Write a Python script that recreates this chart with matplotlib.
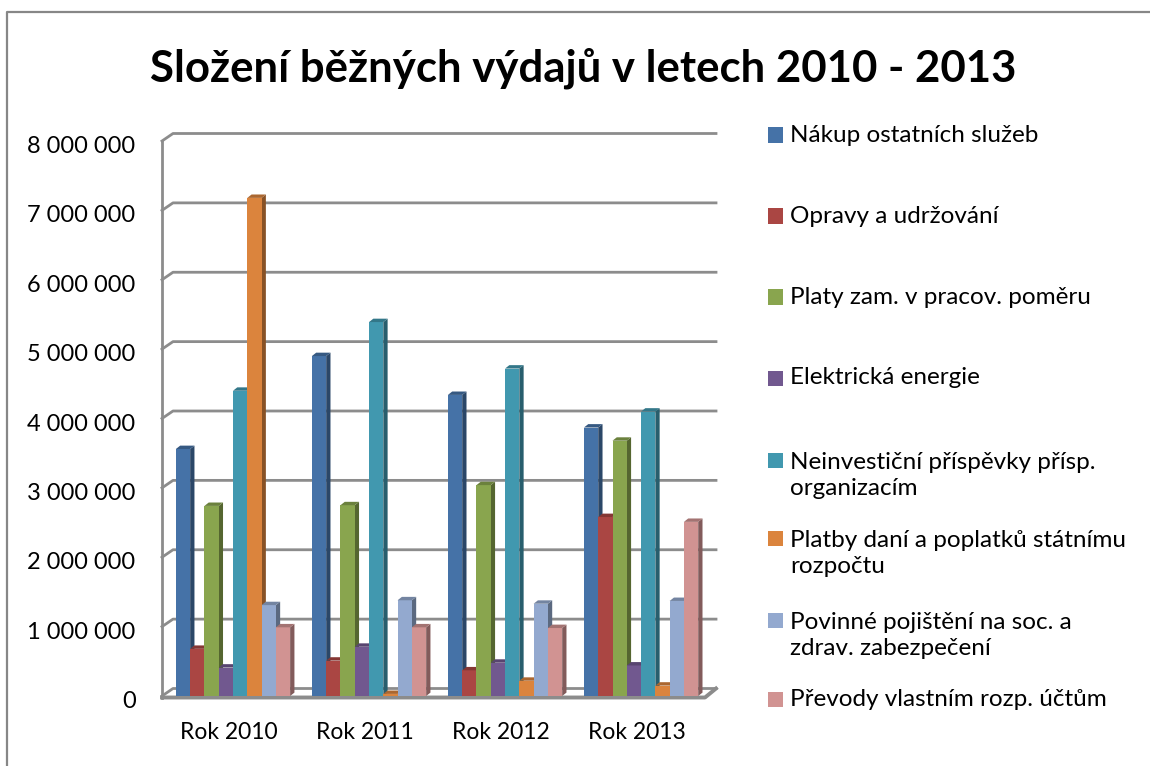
import matplotlib
matplotlib.use("Agg")
import matplotlib.pyplot as plt
from matplotlib.patches import Polygon, Rectangle
from matplotlib.lines import Line2D
import matplotlib.colors as mcolors
import matplotlib.transforms as mtransforms
import numpy as np

plt.rcParams['font.family'] = ['Lato', 'DejaVu Sans']

# ---------------- data ----------------
categories = ["Rok 2010", "Rok 2011", "Rok 2012", "Rok 2013"]
series_names = [
    "Nákup ostatních služeb",
    "Opravy a udržování",
    "Platy zam. v pracov. poměru",
    "Elektrická energie",
    "Neinvestiční příspěvky přísp.\norganizacím",
    "Platby daní a poplatků státnímu\nrozpočtu",
    "Povinné pojištění na soc. a\nzdrav. zabezpečení",
    "Převody vlastním rozp. účtům",
]
nakup_sluzeb = [3560000, 4900000, 4340000, 3870000]
opravy = [680000, 510000, 370000, 2580000]
platy = [2740000, 2750000, 3040000, 3680000]
elektricka_energie = [410000, 710000, 480000, 440000]
neinvesticni_prispevky = [4400000, 5390000, 4720000, 4100000]
platby_dani = [7180000, 30000, 220000, 150000]
povinne_pojisteni = [1310000, 1380000, 1330000, 1370000]
prevody = [990000, 990000, 980000, 2510000]
y_ticks = [0, 1000000, 2000000, 3000000, 4000000, 5000000, 6000000, 7000000, 8000000]
y_tick_labels = ["0", "1 000 000", "2 000 000", "3 000 000", "4 000 000",
                 "5 000 000", "6 000 000", "7 000 000", "8 000 000"]
title = "Složení běžných výdajů v letech 2010 - 2013"

series_values = [nakup_sluzeb, opravy, platy, elektricka_energie,
                 neinvesticni_prispevky, platby_dani, povinne_pojisteni, prevody]
colors = ["#4572A7", "#AA4643", "#89A54E", "#71588F",
          "#4198AF", "#DB843D", "#93A9CF", "#D19392"]

# ---------------- figure ----------------
W, H = 1150, 766
fig = plt.figure(figsize=(W / 100, H / 100), dpi=100)
fig.patch.set_facecolor("white")

ax_left, ax_right, ax_top, ax_bottom = 162, 705, 141, 696
ax = fig.add_axes([ax_left / W, 1 - ax_bottom / H,
                   (ax_right - ax_left) / W, (ax_bottom - ax_top) / H])
ax.set_facecolor("none")

xlim = (-0.522, 3.47)
ylim = (0, 8000000)
ax.set_xlim(*xlim)
ax.set_ylim(*ylim)
for s in ax.spines.values():
    s.set_visible(False)

# depth offsets (in data units)
px_x = (xlim[1] - xlim[0]) / (ax_right - ax_left)
px_y = (ylim[1] - ylim[0]) / (ax_bottom - ax_top)
wall_dx, wall_dy = 11 * px_x, 7.5 * px_y
bar_dx, bar_dy = 4.3 * px_x, 3.4 * px_y

grid_col = "#8C8C8C"
grid_lw = 2.0
# gridlines on back wall with diagonal on left wall
for t in y_ticks:
    ax.add_line(Line2D([xlim[0], xlim[0] + wall_dx, xlim[1] + wall_dx],
                       [t, t + wall_dy, t + wall_dy],
                       color=grid_col, lw=grid_lw, clip_on=False, zorder=1))
# left wall front edge
ax.add_line(Line2D([xlim[0], xlim[0]], [ylim[0] - 1.5 * px_y, ylim[1]],
                   color=grid_col, lw=grid_lw, clip_on=False, zorder=1))
# floor front edge
ax.add_line(Line2D([xlim[0], xlim[1], xlim[1] + wall_dx],
                   [-1.5 * px_y, -1.5 * px_y, wall_dy],
                   color=grid_col, lw=grid_lw + 0.8, clip_on=False, zorder=1))


def shade(c, f):
    r, g, b = mcolors.to_rgb(c)
    return (r * f, g * f, b * f)


n = len(series_values)
bw = 0.105
x = np.arange(len(categories))
for i, (vals, col) in enumerate(zip(series_values, colors)):
    xs = x + (i - (n - 1) / 2) * bw
    bars = ax.bar(xs, vals, width=bw, color=col, edgecolor="none",
                  zorder=3 + i * 0.01)
    for rect in bars:
        x0 = rect.get_x()
        x1 = x0 + rect.get_width()
        h = rect.get_height()
        side = Polygon([(x1, 0), (x1 + bar_dx, bar_dy), (x1 + bar_dx, h + bar_dy), (x1, h)],
                       closed=True, facecolor=shade(col, 0.62), edgecolor="none",
                       zorder=2.9 + i * 0.01, clip_on=False)
        top = Polygon([(x0, h), (x0 + bar_dx, h + bar_dy), (x1 + bar_dx, h + bar_dy), (x1, h)],
                      closed=True, facecolor=shade(col, 0.78), edgecolor="none",
                      zorder=3 + i * 0.01, clip_on=False)
        ax.add_patch(side)
        ax.add_patch(top)

ax.set_yticks(y_ticks)
ax.set_yticklabels(y_tick_labels, fontsize=17, color="#000000")
ax.tick_params(axis="y", length=0, pad=19)
shift = mtransforms.ScaledTranslation(0, -3.5 / 100, fig.dpi_scale_trans)
for lbl in ax.get_yticklabels():
    lbl.set_transform(lbl.get_transform() + shift)
ax.set_xticks(x - 0.03)
ax.set_xticklabels(categories, fontsize=16.5, color="#000000")
ax.tick_params(axis="x", length=0, pad=19)

# title
fig.text(583 / W, 1 - 68 / H, title, ha="center", va="center",
         fontsize=31.5, fontweight="bold", color="#000000")

# legend (manual, Excel-like distributed layout)
leg_y = [135, 216, 297, 378, 460, 538, 620, 699]
line_gap = 31
sq = 15
for name, col, yy in zip(series_names, colors, leg_y):
    fig.patches.append(Rectangle((768 / W, 1 - (yy + sq / 2) / H), sq / W, sq / H,
                                 transform=fig.transFigure, facecolor=col,
                                 edgecolor="none"))
    nlines = name.count("\n") + 1
    yc = yy + (nlines - 1) * line_gap / 2
    fig.text(790 / W, 1 - yc / H, name, ha="left", va="center",
             fontsize=17.5, color="#000000", linespacing=1.25)

# outer chart border (top and left visible)
fig.add_artist(Line2D([7 / W, 7 / W, 1.0], [0.0, 1 - 12 / H, 1 - 12 / H],
                      transform=fig.transFigure, color="#878787", lw=1.6))

fig.savefig("out.png", dpi=100, facecolor="white")
